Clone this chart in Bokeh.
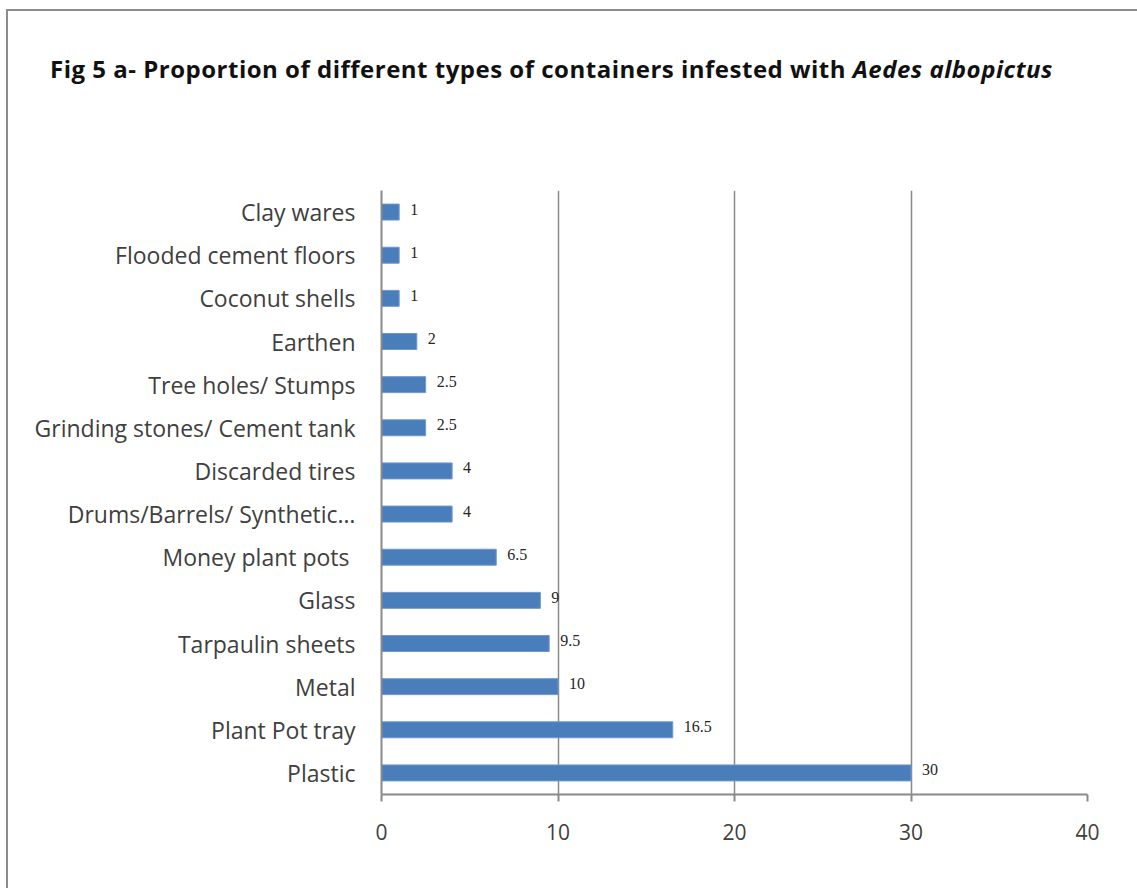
from bokeh.plotting import figure
from bokeh.models import FactorRange, FixedTicker, ColumnDataSource, Div
from bokeh.layouts import column
from bokeh.core.properties import value
from bokeh.embed import file_html
from bokeh.resources import INLINE

# Container types, listed top to bottom as they appear on the chart
categories = [
    "Clay wares",
    "Flooded cement floors",
    "Coconut shells",
    "Earthen",
    "Tree holes/ Stumps",
    "Grinding stones/ Cement tank",
    "Discarded tires",
    "Drums/Barrels/ Synthetic\u2026",
    "Money plant pots ",
    "Glass",
    "Tarpaulin sheets",
    "Metal",
    "Plant Pot tray",
    "Plastic",
]
proportions = [1, 1, 1, 2, 2.5, 2.5, 4, 4, 6.5, 9, 9.5, 10, 16.5, 30]
value_labels = ["1", "1", "1", "2", "2.5", "2.5", "4", "4", "6.5", "9", "9.5", "10", "16.5", "30"]
x_ticks = [0, 10, 20, 30, 40]

TEXT = "#404040"
GRID = "#8a8a8a"
FONT = "Open Sans"
TITLE_H = 100

source = ColumnDataSource(dict(cat=categories, val=proportions, lab=value_labels))

title = Div(
    width=1129, height=TITLE_H, margin=0,
    text=(
        '<div style="position:absolute; left:42px; top:41px; white-space:nowrap; '
        'font-family:\'Open Sans\'; font-size:24px; letter-spacing:0.5px; '
        'font-weight:bold; color:#111;">'
        'Fig 5 a- Proportion of different types of containers infested with '
        '<i>Aedes albopictus</i></div>'
    ),
)

p = figure(
    width=1129, height=877 - TITLE_H,
    y_range=FactorRange(factors=list(reversed(categories))),
    x_range=(0, 40),
    output_backend="svg", toolbar_location=None,
    min_border_left=373, min_border_right=50,
    min_border_top=179 - TITLE_H, min_border_bottom=94,
)
p.margin = 0
p.outline_line_color = None
p.background_fill_color = "white"
p.border_fill_color = "white"

p.hbar(y="cat", right="val", left=0, height=0.37, source=source,
       fill_color="#4a7ebb", line_color="#6b98cf", line_width=1)

# value labels beside each bar
p.text(x="val", y="cat", text="lab", source=source,
       x_offset=11, y_offset=-3, text_baseline="middle", text_align="left",
       text_font=value("Liberation Serif"), text_font_size="16px",
       text_color="#262626")

# axes
p.xaxis.ticker = FixedTicker(ticks=x_ticks)
p.xaxis.axis_line_color = GRID
p.xaxis.axis_line_width = 2
p.xaxis.major_tick_line_color = GRID
p.xaxis.major_tick_line_width = 2
p.xaxis.major_tick_in = 0
p.xaxis.major_tick_out = 7
p.xaxis.minor_tick_line_color = None
p.xaxis.major_label_text_font = FONT
p.xaxis.major_label_text_font_size = "21px"
p.xaxis.major_label_text_color = TEXT
p.xaxis.major_label_standoff = 22

p.yaxis.axis_line_color = GRID
p.yaxis.axis_line_width = 2
p.yaxis.major_tick_line_color = None
p.yaxis.minor_tick_line_color = None
p.yaxis.major_label_text_font = FONT
p.yaxis.major_label_text_font_size = "23px"
p.yaxis.major_label_text_color = TEXT
p.yaxis.major_label_standoff = 20

p.xgrid.ticker = FixedTicker(ticks=x_ticks)
p.xgrid.grid_line_color = GRID
p.xgrid.grid_line_width = 1.5
p.ygrid.grid_line_color = None

layout = column(title, p, spacing=0)
layout.styles = {
    "margin-left": "6px", "margin-top": "9px",
    "border-left": "2px solid #8c8c8c", "border-top": "2px solid #8c8c8c",
    "background-color": "white",
}

open("out.html", "w").write(file_html(layout, INLINE))
